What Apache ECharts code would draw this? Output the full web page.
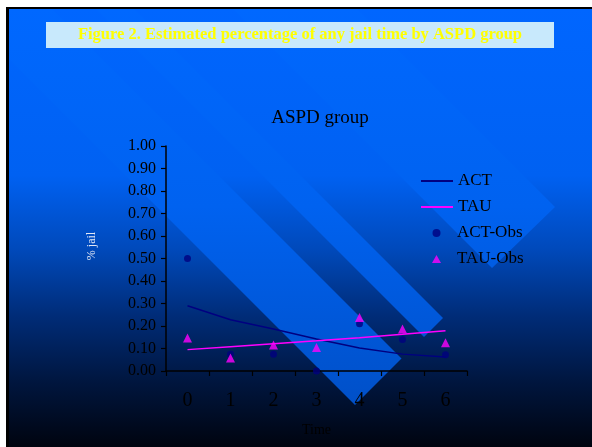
<!DOCTYPE html>
<html>
<head>
<meta charset="utf-8">
<script src="https://cdn.jsdelivr.net/npm/echarts@6/dist/echarts.min.js"></script>
<style>
  html, body { margin: 0; padding: 0; background: #fff; }
  #chart { width: 592px; height: 447px; }
</style>
</head>
<body>
<div id="chart"></div>
<script>
// Time points (x axis categories)
var timePoints = ['0', '1', '2', '3', '4', '5', '6'];
// Estimated proportion with any jail time, per treatment group
var actFitted = [0.29, 0.228, 0.187, 0.142, 0.102, 0.075, 0.062];
var tauFitted = [0.095, 0.108, 0.121, 0.134, 0.148, 0.163, 0.179];
// Observed proportions
var actObserved = [0.50, 0.075, 0.075, 0.00, 0.21, 0.14, 0.072];
var tauObserved = [0.147, 0.058, 0.116, 0.104, 0.238, 0.187, 0.126];
// Y axis range
var yTicks = { min: 0, max: 1, step: 0.1 };

var serif = 'Liberation Serif, Times New Roman, serif';
var chart = echarts.init(document.getElementById('chart'), null, { renderer: 'canvas' });

// Slide background: blue fading into near-black
var slideFill = new echarts.graphic.LinearGradient(0, 9, 0, 447, [
  { offset: 0.0, color: '#0066ff' },
  { offset: 0.38, color: '#0061f2' },
  { offset: 0.55, color: '#0049ba' },
  { offset: 0.70, color: '#002c78' },
  { offset: 0.85, color: '#00163f' },
  { offset: 1.0, color: '#00040f' }
], true);
// Diagonal ribbons, a lighter blue
var ribbonFill = new echarts.graphic.LinearGradient(0, 9, 0, 447, [
  { offset: 0.0, color: '#0068ff' },
  { offset: 0.45, color: '#0062f0' },
  { offset: 1.0, color: '#004cc0' }
], true);

function ribbon(points, z) {
  return { type: 'polygon', z: z, silent: true, shape: { points: points }, style: { fill: ribbonFill } };
}

var legendText = { fontFamily: serif, fontSize: 17, color: '#000000', lineHeight: 18 };

var option = {
  backgroundColor: '#ffffff',
  animation: false,
  graphic: [
    { type: 'rect', z: -100, silent: true, shape: { x: 6, y: 7, width: 586, height: 440 }, style: { fill: '#000000' } },
    { type: 'rect', z: -99, silent: true, shape: { x: 9, y: 9, width: 583, height: 438 }, style: { fill: slideFill } },
    ribbon([[9, 9], [52, 9], [401.5, 358.5], [355, 405], [9, 59]], -98),
    ribbon([[96, 9], [134, 9], [443, 318], [424, 337]], -98),
    ribbon([[233, 9], [357, 9], [555, 207], [492, 268]], -98),
    { type: 'rect', z: -90, silent: true, shape: { x: 46, y: 22, width: 508, height: 26 }, style: { fill: '#c8e9fc' } },
    { type: 'text', z: -89, silent: true, x: 300, y: 35,
      style: { text: 'Figure 2. Estimated percentage of any jail time by ASPD group', fill: '#ffff00',
               font: 'bold 16.5px ' + serif, textAlign: 'center', textVerticalAlign: 'middle' } },
    { type: 'text', z: -89, silent: true, x: 92, y: 246, rotation: Math.PI / 2,
      style: { text: '% jail', fill: '#e2e8f6', font: '12px ' + serif, textAlign: 'center', textVerticalAlign: 'middle' } }
  ],
  title: {
    text: 'ASPD group',
    left: 315,
    textAlign: 'center',
    top: 104,
    textStyle: { fontFamily: serif, fontSize: 19, fontWeight: 'normal', color: '#000000' }
  },
  legend: [
    {
      data: [{ name: 'ACT', icon: 'rect' }, { name: 'TAU', icon: 'rect' }],
      orient: 'vertical',
      left: 416,
      top: 167,
      itemWidth: 32,
      itemHeight: 2,
      itemGap: 8,
      textStyle: legendText
    },
    {
      data: [{ name: 'ACT-Obs', icon: 'circle' }, { name: 'TAU-Obs', icon: 'triangle' }],
      orient: 'vertical',
      left: 427,
      top: 219,
      itemWidth: 9,
      itemHeight: 8,
      itemGap: 8,
      textStyle: Object.assign({ padding: [0, 0, 0, 11] }, legendText)
    }
  ],
  grid: { left: 166, right: 125, top: 146, bottom: 76, containLabel: false },
  xAxis: {
    type: 'category',
    data: timePoints,
    boundaryGap: true,
    name: 'Time',
    nameLocation: 'middle',
    nameGap: 52,
    nameTextStyle: { fontFamily: serif, fontSize: 14, color: '#000000' },
    axisLine: { lineStyle: { color: '#000000', width: 1.5 } },
    axisTick: { show: true, inside: false, length: 5, lineStyle: { color: '#000000', width: 1.2 } },
    axisLabel: { margin: 20, fontFamily: serif, fontSize: 20, color: '#000000' },
    splitLine: { show: false }
  },
  yAxis: {
    type: 'value',
    min: yTicks.min,
    max: yTicks.max,
    interval: yTicks.step,
    axisLine: { show: true, lineStyle: { color: '#000000', width: 1.5 } },
    axisTick: { show: true, inside: false, length: 5, lineStyle: { color: '#000000', width: 1.2 } },
    axisLabel: { margin: 10, fontFamily: serif, fontSize: 16, color: '#000000',
                 formatter: function (v) { return v.toFixed(2); } },
    splitLine: { show: false }
  },
  series: [
    {
      name: 'ACT', type: 'line', data: actFitted, symbol: 'none', smooth: false,
      lineStyle: { color: '#000080', width: 1.5 }, itemStyle: { color: '#000080' }, z: 3
    },
    {
      name: 'TAU', type: 'line', data: tauFitted, symbol: 'none', smooth: false,
      lineStyle: { color: '#ff00ff', width: 1.5 }, itemStyle: { color: '#ff00ff' }, z: 3
    },
    {
      name: 'ACT-Obs', type: 'scatter', data: actObserved, symbol: 'circle', symbolSize: 7,
      itemStyle: { color: '#000080' }, z: 4
    },
    {
      name: 'TAU-Obs', type: 'scatter', data: tauObserved, symbol: 'triangle', symbolSize: 9,
      itemStyle: { color: '#ff00ff' }, z: 5
    }
  ]
};

chart.setOption(option);
</script>
</body>
</html>
